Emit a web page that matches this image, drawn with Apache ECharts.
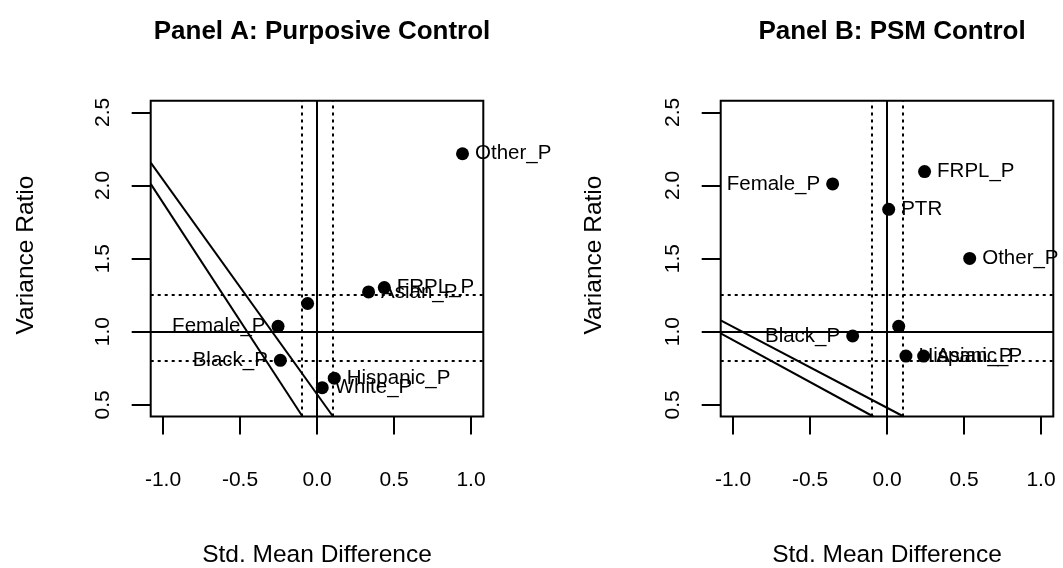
<!DOCTYPE html>
<html>
<head>
<meta charset="utf-8">
<script src="https://cdn.jsdelivr.net/npm/echarts@6/dist/echarts.min.js"></script>
<style>
html,body{margin:0;padding:0;background:#fff;}
#main{width:1063px;height:568px;}
</style>
</head>
<body>
<div id="main"></div>
<script>
// ---- data ----
const xTicks = [-1.0, -0.5, 0.0, 0.5, 1.0];
const yTicks = [0.5, 1.0, 1.5, 2.0, 2.5];

// Panel A: Purposive Control
const namesA = ["Other_P", "FRPL_P", "Asian_P", "", "Female_P", "Black_P", "Hispanic_P", "White_P"];
const smdA   = [0.945, 0.437, 0.335, -0.061, -0.253, -0.238, 0.112, 0.034];
const vrA    = [2.217, 1.302, 1.272, 1.193, 1.037, 0.804, 0.682, 0.617];
const sideA  = ["right", "right", "right", "right", "left", "left", "right", "right"];

// Panel B: PSM Control
const namesB = ["Female_P", "FRPL_P", "PTR", "Other_P", "", "Black_P", "Hispanic_P", "Asian_P"];
const smdB   = [-0.353, 0.244, 0.011, 0.537, 0.076, -0.223, 0.123, 0.238];
const vrB    = [2.011, 2.095, 1.837, 1.501, 1.037, 0.971, 0.833, 0.833];
const sideB  = ["left", "right", "right", "right", "right", "left", "right", "right"];

// reference thresholds
const solidX = [0];
const solidY = [1];
const dottedX = [-0.1, 0.1];
const dottedY = [0.8, 1.25];

// diagonal boundary lines (endpoints in data units)
const diagA1 = [[-1.08, 2.011], [-0.094, 0.42]];
const diagA2 = [[-1.08, 2.157], [0.104, 0.42]];
const diagB1 = [[-1.08, 1.078], [0.108, 0.42]];
const diagB2 = [[-1.08, 0.989], [-0.089, 0.42]];

const xRange = [-1.08, 1.08];
const yRange = [0.42, 2.58];

// ---- chart ----
const FONT = "Liberation Sans, Arial, Helvetica, sans-serif";
const chart = echarts.init(document.getElementById('main'), null, {renderer: 'canvas'});

function grid(left) {
  return {left: left, top: 100.7, width: 332.6, height: 315.8, show: true,
          borderColor: '#000', borderWidth: 2, backgroundColor: 'transparent'};
}
function xAx(idx) {
  return {type: 'value', gridIndex: idx, min: xRange[0], max: xRange[1],
    axisLine: {show: false, onZero: false}, splitLine: {show: false},
    axisTick: {show: true, length: 18, customValues: xTicks, lineStyle: {color: '#000', width: 2}},
    axisLabel: {customValues: xTicks, margin: 53, fontSize: 21, lineHeight: 21, color: '#000', fontFamily: FONT,
      formatter: v => v.toFixed(1)}};
}
function yAx(idx) {
  return {type: 'value', gridIndex: idx, min: yRange[0], max: yRange[1],
    axisLine: {show: false, onZero: false}, splitLine: {show: false},
    axisTick: {show: true, length: 19, customValues: yTicks, lineStyle: {color: '#000', width: 2}},
    axisLabel: {customValues: yTicks, rotate: 90, margin: 37, fontSize: 21, lineHeight: 21, color: '#000', fontFamily: FONT,
      formatter: v => v.toFixed(1)}};
}
function refLines() {
  const d = [];
  solidX.forEach(v => d.push({xAxis: v, lineStyle: {type: 'solid'}}));
  solidY.forEach(v => d.push({yAxis: v, lineStyle: {type: 'solid'}}));
  dottedX.forEach(v => d.push({xAxis: v, lineStyle: {type: [3, 4]}}));
  dottedY.forEach(v => d.push({yAxis: v, lineStyle: {type: [3, 4]}}));
  return {silent: true, symbol: ['none', 'none'], label: {show: false}, animation: false,
          lineStyle: {color: '#000', width: 2, opacity: 1}, emphasis: {disabled: true}, data: d};
}
function diag(idx, pts) {
  return {type: 'line', xAxisIndex: idx, yAxisIndex: idx, data: pts, symbol: 'none', clip: true,
          lineStyle: {color: '#000', width: 2}, animation: false, silent: true, z: 2};
}
function pts(idx, names, xs, ys, sides) {
  return {type: 'scatter', xAxisIndex: idx, yAxisIndex: idx, symbol: 'circle', symbolSize: 13,
    itemStyle: {color: '#000', opacity: 1}, animation: false, z: 5,
    label: {show: true, formatter: '{b}', fontSize: 20.5, color: '#000', opacity: 1, fontFamily: FONT, distance: 6},
    data: names.map((n, i) => ({name: n, value: [xs[i], ys[i]], label: {position: sides[i]}})),
    markLine: refLines()};
}

const option = {
  backgroundColor: '#fff',
  animation: false,
  title: [
    {text: 'Panel A: Purposive Control', left: 317, top: 14, textAlign: 'center',
     textStyle: {fontSize: 26, fontWeight: 'bold', color: '#000', fontFamily: FONT}},
    {text: 'Panel B: PSM Control', left: 887, top: 14, textAlign: 'center',
     textStyle: {fontSize: 26, fontWeight: 'bold', color: '#000', fontFamily: FONT}}
  ],
  grid: [grid(150.7), grid(720.7)],
  xAxis: [xAx(0), xAx(1)],
  yAxis: [yAx(0), yAx(1)],
  series: [
    diag(0, diagA1), diag(0, diagA2),
    diag(1, diagB1), diag(1, diagB2),
    pts(0, namesA, smdA, vrA, sideA),
    pts(1, namesB, smdB, vrB, sideB)
  ],
  graphic: [
    {type: 'text', x: 26, y: 255, rotation: Math.PI / 2,
     style: {text: 'Variance Ratio', fontSize: 24.5, fontFamily: FONT, fill: '#000', align: 'center', verticalAlign: 'middle'}},
    {type: 'text', x: 594, y: 255, rotation: Math.PI / 2,
     style: {text: 'Variance Ratio', fontSize: 24.5, fontFamily: FONT, fill: '#000', align: 'center', verticalAlign: 'middle'}},
    {type: 'text', x: 317, y: 555, 
     style: {text: 'Std. Mean Difference', fontSize: 24.5, fontFamily: FONT, fill: '#000', align: 'center', verticalAlign: 'middle'}},
    {type: 'text', x: 887, y: 555,
     style: {text: 'Std. Mean Difference', fontSize: 24.5, fontFamily: FONT, fill: '#000', align: 'center', verticalAlign: 'middle'}}
  ]
};
chart.setOption(option);
</script>
</body>
</html>
